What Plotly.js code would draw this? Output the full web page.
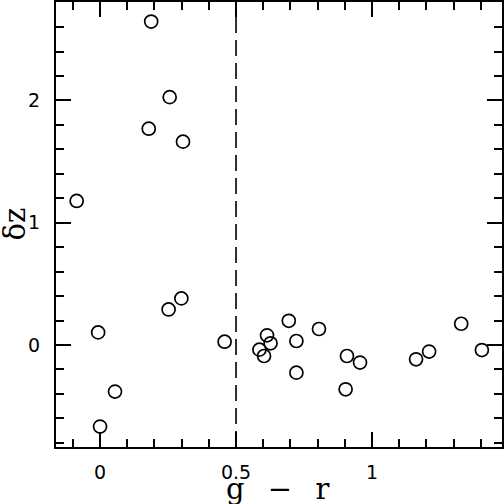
<!DOCTYPE html>
<html>
<head>
<meta charset="utf-8">
<script src="https://cdn.plot.ly/plotly-3.0.1.min.js"></script>
<style>
  html, body { margin: 0; padding: 0; background: #fff; }
  #plot { width: 504px; height: 504px; }
</style>
</head>
<body>
<div id="plot"></div>
<script>
// g - r colour vs delta z
var gr = [0.188, 0.256, 0.179, 0.305, -0.086,
          -0.007, 0.252, 0.299, 0.458, 0.055, 0.000,
          0.694, 0.614, 0.627, 0.586, 0.603, 0.722, 0.805, 0.722, 0.908, 0.956, 0.903,
          1.328, 1.210, 1.162, 1.404];
var dz = [2.645, 2.027, 1.769, 1.663, 1.178,
          0.103, 0.291, 0.381, 0.027, -0.381, -0.667,
          0.198, 0.079, 0.014, -0.038, -0.090, 0.033, 0.131, -0.226, -0.090, -0.144, -0.362,
          0.174, -0.054, -0.117, -0.041];
var cutColour = 0.5;
var xTitle = 'g\u00A0\u00A0\u2006\u2212\u00A0\u00A0\u2006r';
var yTitle = '\u03B4z';

var tickFont = {family: 'DejaVu Sans', size: 19, color: '#000'};
var titleFont = {family: 'DejaVu Serif', size: 29, color: '#000'};

var pts = {
  type: 'scatter',
  x: gr,
  y: dz,
  mode: 'markers',
  marker: {
    symbol: 'circle-open',
    size: 13,
    color: '#000',
    line: {color: '#000', width: 1.7}
  },
  hoverinfo: 'skip'
};

var axisCommon = {
  showgrid: false,
  zeroline: false,
  showline: true,
  linecolor: '#000',
  linewidth: 2.2,
  mirror: 'allticks',
  ticks: 'inside',
  ticklen: 15,
  tickwidth: 2,
  tickcolor: '#000',
  tickfont: tickFont,
  minor: {ticks: 'inside', ticklen: 8, tickwidth: 2, tickcolor: '#000', showgrid: false}
};

var layout = {
  width: 504,
  height: 504,
  margin: {l: 56, r: 2, t: 2, b: 57},
  paper_bgcolor: '#fff',
  plot_bgcolor: '#fff',
  showlegend: false,
  xaxis: Object.assign({}, axisCommon, {
    range: [-0.162, 1.478],
    tickvals: [0, 0.5, 1],
    ticktext: ['0', '0.5', '1'],
    minor: Object.assign({}, axisCommon.minor, {dtick: 0.1, tick0: 0}),
    ticklabelstandoff: 7
  }),
  yaxis: Object.assign({}, axisCommon, {
    range: [-0.834, 2.805],
    tickvals: [0, 1, 2],
    ticktext: ['0', '1', '2'],
    minor: Object.assign({}, axisCommon.minor, {dtick: 0.2, tick0: 0}),
    ticklabelstandoff: 10
  }),
  annotations: [
    {text: xTitle, font: titleFont, showarrow: false, borderpad: 0,
     xref: 'paper', yref: 'paper', x: 0.5, y: 0, xanchor: 'center', yanchor: 'bottom',
     xshift: -1.5, yshift: -60},
    {text: yTitle, font: titleFont, showarrow: false, borderpad: 0, textangle: -90,
     xref: 'paper', yref: 'paper', x: 0, y: 0.5, xanchor: 'center', yanchor: 'middle',
     xshift: -42}
  ],
  shapes: [{
    type: 'line',
    xref: 'x', yref: 'paper',
    x0: cutColour, x1: cutColour, y0: 0, y1: 1,
    line: {color: '#000', width: 1.6, dash: '16px,7px'}
  }]
};

Plotly.newPlot('plot', [pts], layout, {displayModeBar: false, staticPlot: true});
</script>
</body>
</html>
